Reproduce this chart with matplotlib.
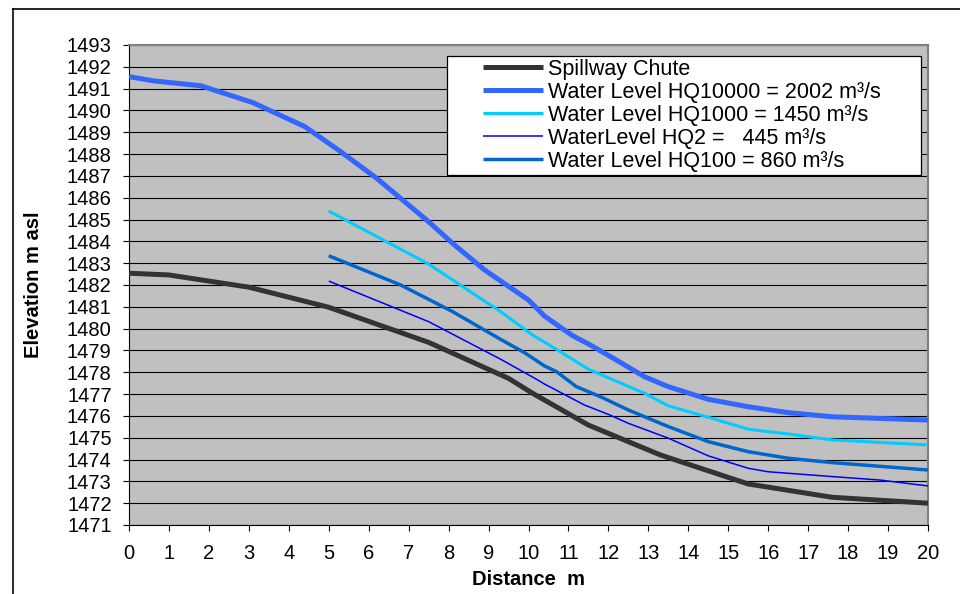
import numpy as np
import matplotlib
matplotlib.use('Agg')
import matplotlib.pyplot as plt
from matplotlib.patches import Rectangle
from matplotlib.lines import Line2D

plt.rcParams["font.family"] = ["Liberation Sans", "DejaVu Sans"]

# spillway chute bed profile
x_chute = [0, 1, 3, 5, 7.5, 9.5, 10.1, 11.5, 13.3, 15.5, 17.6, 20]
y_chute = [1482.54, 1482.46, 1481.9, 1480.98, 1479.37, 1477.72, 1477.04, 1475.58, 1474.21, 1472.88, 1472.27, 1472.0]

# water level HQ10000
x_q10000 = [0, 0.6, 1.8, 3.1, 4.4, 5.3, 6.2, 7.5, 8.1, 8.9, 10.0, 10.4, 10.6, 11.1, 11.5, 12.2, 12.9, 13.5, 14.5, 15.5, 16.5, 17.6, 20]
y_q10000 = [1491.55, 1491.36, 1491.13, 1490.36, 1489.26, 1488.11, 1486.89, 1484.9, 1483.91, 1482.69, 1481.31, 1480.58, 1480.32,
            1479.68, 1479.3, 1478.56, 1477.8, 1477.34, 1476.76, 1476.42, 1476.15, 1475.96, 1475.81]

# water level HQ1000
x_q1000 = [5, 7.5, 9.3, 10.1, 10.8, 11.5, 12.9, 13.5, 14.5, 15.5, 16.5, 17.6, 20]
y_q1000 = [1485.39, 1482.96, 1480.78, 1479.71, 1478.94, 1478.14, 1477.04, 1476.46, 1475.94, 1475.39, 1475.17, 1474.9, 1474.67]

# water level HQ2
x_q2 = [5, 7.5, 9.3, 10.2, 10.4, 10.6, 11.4, 12.0, 12.5, 13.5, 14.5, 15.5, 16.0, 17.6, 18.8, 20]
y_q2 = [1482.18, 1480.32, 1478.6, 1477.68, 1477.46, 1477.27, 1476.5, 1476.07, 1475.66, 1474.98, 1474.17, 1473.6, 1473.44,
        1473.22, 1473.06, 1472.79]

# water level HQ100
x_q100 = [5, 6.8, 8.1, 9.3, 9.9, 10.4, 10.7, 11.2, 11.8, 12.5, 13.5, 14.5, 15.5, 16.5, 17.6, 20]
y_q100 = [1483.34, 1482.0, 1480.78, 1479.51, 1478.9, 1478.29, 1478.03, 1477.34, 1476.88, 1476.27, 1475.51, 1474.82,
          1474.36, 1474.06, 1473.86, 1473.52]

labels = ['Spillway Chute',
          'Water Level HQ10000 = 2002 m³/s',
          'Water Level HQ1000 = 1450 m³/s',
          'WaterLevel HQ2 =   445 m³/s',
          'Water Level HQ100 = 860 m³/s']

W, H = 960, 594
fig = plt.figure(figsize=(9.6, 5.94), dpi=100)
ax = fig.add_axes([129 / W, 1 - 525 / H, (928 - 129) / W, (525 - 45) / H])
ax.set_facecolor('#C0C0C0')

ax.plot(x_chute, y_chute, color='#333333', linewidth=3.6, solid_capstyle='butt', label=labels[0], zorder=3)
ax.plot(x_q10000, y_q10000, color='#3366FF', linewidth=3.6, solid_capstyle='butt', label=labels[1], zorder=3)
ax.plot(x_q1000, y_q1000, color='#00CCFF', linewidth=2.2, solid_capstyle='butt', label=labels[2], zorder=3)
ax.plot(x_q2, y_q2, color='#0000FF', linewidth=1.1, solid_capstyle='butt', label=labels[3], zorder=3)
ax.plot(x_q100, y_q100, color='#0066CC', linewidth=2.5, solid_capstyle='butt', label=labels[4], zorder=3)

ax.set_xlim(0, 20)
ax.set_ylim(1471, 1493)
ax.set_xticks(np.arange(0, 21, 1))
ax.set_yticks(np.arange(1471, 1494, 1))
ax.grid(axis='y', color='black', linewidth=0.8)
ax.set_axisbelow(True)

ax.tick_params(axis='both', direction='out', length=4.5, width=0.8, labelsize=14.5, color='black')
ax.tick_params(axis='y', pad=8)
ax.tick_params(axis='x', pad=9)

ax.spines['left'].set_color('black')
ax.spines['bottom'].set_color('black')
ax.spines['top'].set_color('#808080')
ax.spines['right'].set_color('#808080')
ax.spines['top'].set_linewidth(1.5)
ax.spines['right'].set_linewidth(1.5)

ax.set_xlabel('Distance  m', fontsize=14.5, fontweight='bold', labelpad=5)
ax.set_ylabel('Elevation m asl', fontsize=14.5, fontweight='bold', labelpad=17)

# legend box
box = Rectangle((447 / W, 1 - 175 / H), 474 / W, 119 / H, transform=fig.transFigure,
                facecolor='white', edgecolor='black', linewidth=0.9, zorder=4)
ax.add_patch(box)
leg = ax.legend(loc='upper left', bbox_to_anchor=(483 / W, 1 - 59 / H), bbox_transform=fig.transFigure,
                frameon=False, fontsize=15.5, handlelength=2.8, handletextpad=0.22,
                labelspacing=0.09, borderpad=0, borderaxespad=0)
leg.set_zorder(5)

# outer chart frame
fig.add_artist(Line2D([13 / W, 13 / W], [0, 1 - 9 / H], transform=fig.transFigure, color='#333333', linewidth=1.5))
fig.add_artist(Line2D([13 / W, 1], [1 - 9 / H, 1 - 9 / H], transform=fig.transFigure, color='black', linewidth=1.2))

fig.savefig('out.png', dpi=100)
